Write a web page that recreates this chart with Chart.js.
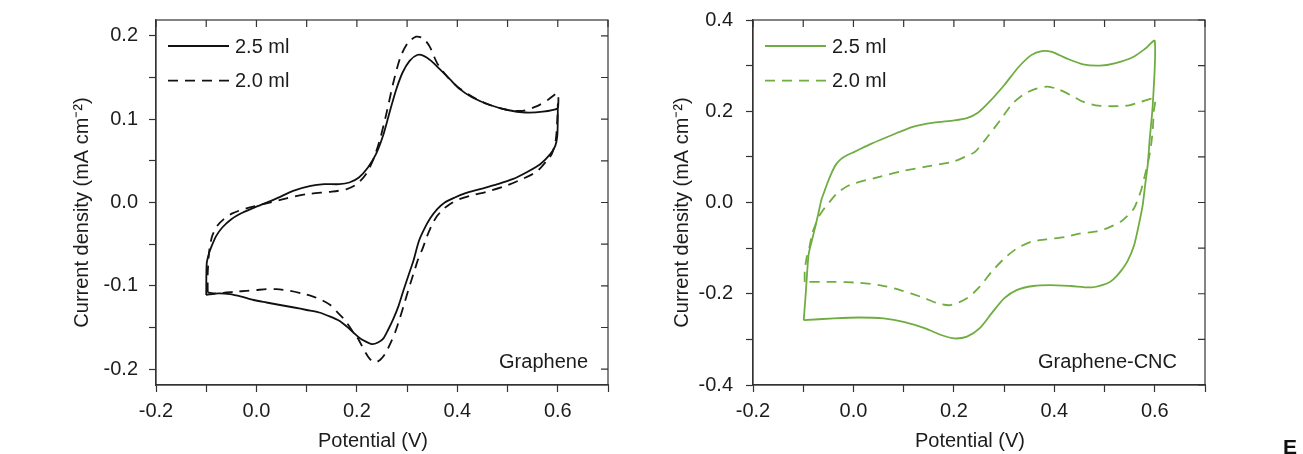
<!DOCTYPE html>
<html>
<head>
<meta charset="utf-8">
<script src="https://cdn.jsdelivr.net/npm/chart.js@4/dist/chart.umd.min.js"></script>
<style>
  html, body { margin: 0; padding: 0; background: #fff; overflow: hidden; }
  #wrap { position: relative; width: 1303px; height: 454px; }
  .panel { position: absolute; top: 0; }
  #left { left: 0; }
  #right { left: 640px; }
  #tag { position: absolute; left: 1283px; top: 435px; font: bold 21px 'Liberation Sans', Arial, sans-serif; color: #111; }
</style>
</head>
<body>
<div id="wrap">
  <canvas class="panel" id="left" width="640" height="454"></canvas>
  <canvas class="panel" id="right" width="663" height="454"></canvas>
  <div id="tag">E</div>
</div>
<script>
// Graphene electrode: potential (V) and current density (mA cm-2)
const grapheneV25 = [-0.100, -0.099, -0.094, -0.089, -0.080, -0.068, -0.050, -0.027, 0.000, 0.037, 0.073, 0.108, 0.135, 0.165, 0.185,
  0.204, 0.222, 0.238, 0.252, 0.265, 0.278, 0.291, 0.305, 0.320, 0.333, 0.348, 0.365, 0.385, 0.405, 0.430, 0.465, 0.500, 0.535, 0.570,
  0.600, 0.600, 0.600, 0.599, 0.595, 0.585, 0.565, 0.540, 0.510, 0.480, 0.445, 0.415, 0.395, 0.375, 0.360, 0.346, 0.334, 0.323, 0.313,
  0.303, 0.293, 0.283, 0.273, 0.262, 0.253, 0.242, 0.230, 0.218, 0.206, 0.193, 0.180, 0.165, 0.147, 0.125, 0.100, 0.075, 0.047, 0.020,
  -0.006, -0.030, -0.053, -0.075, -0.100];
const grapheneI25 = [-0.111, -0.073, -0.060, -0.052, -0.040, -0.030, -0.020, -0.012, -0.005, 0.004, 0.014, 0.020, 0.022, 0.022, 0.024,
  0.030, 0.042, 0.058, 0.080, 0.108, 0.135, 0.156, 0.170, 0.177, 0.176, 0.170, 0.160, 0.148, 0.136, 0.126, 0.117, 0.111, 0.108, 0.109,
  0.113, 0.118, 0.100, 0.080, 0.068, 0.058, 0.046, 0.037, 0.028, 0.022, 0.016, 0.011, 0.006, 0.000, -0.008, -0.019, -0.032, -0.047, -0.069,
  -0.087, -0.105, -0.124, -0.139, -0.153, -0.163, -0.168, -0.170, -0.167, -0.163, -0.156, -0.149, -0.142, -0.137, -0.132, -0.129, -0.126, -0.123, -0.120,
  -0.117, -0.113, -0.110, -0.109, -0.111];
const grapheneV20 = [-0.097, -0.097, -0.094, -0.088, -0.078, -0.065, -0.048, -0.020, 0.020, 0.060, 0.100, 0.150, 0.180, 0.200, 0.218,
  0.233, 0.247, 0.260, 0.273, 0.287, 0.302, 0.318, 0.332, 0.345, 0.360, 0.380, 0.400, 0.430, 0.460, 0.500, 0.530, 0.560, 0.580, 0.600,
  0.599, 0.596, 0.588, 0.578, 0.558, 0.525, 0.492, 0.459, 0.425, 0.400, 0.385, 0.372, 0.360, 0.350, 0.340, 0.331, 0.322, 0.314, 0.306,
  0.296, 0.286, 0.276, 0.266, 0.256, 0.246, 0.236, 0.226, 0.218, 0.210, 0.201, 0.193, 0.183, 0.173, 0.160, 0.147, 0.130, 0.113, 0.090,
  0.067, 0.040, 0.020, 0.000, -0.020, -0.040, -0.060, -0.080, -0.097];
const grapheneI20 = [-0.108, -0.085, -0.058, -0.040, -0.028, -0.020, -0.013, -0.007, -0.001, 0.005, 0.010, 0.013, 0.016, 0.022, 0.034,
  0.052, 0.078, 0.110, 0.145, 0.175, 0.192, 0.199, 0.197, 0.187, 0.167, 0.151, 0.139, 0.127, 0.118, 0.111, 0.110, 0.116, 0.123, 0.131,
  0.100, 0.075, 0.058, 0.050, 0.037, 0.027, 0.019, 0.013, 0.008, 0.003, -0.002, -0.008, -0.016, -0.026, -0.040, -0.055, -0.068, -0.083, -0.098,
  -0.118, -0.138, -0.156, -0.170, -0.182, -0.189, -0.192, -0.188, -0.181, -0.172, -0.162, -0.156, -0.147, -0.139, -0.131, -0.123, -0.117, -0.113, -0.109,
  -0.106, -0.104, -0.104, -0.105, -0.106, -0.107, -0.108, -0.109, -0.108];

// Graphene-CNC electrode
const cncV25 = [-0.099, -0.095, -0.092, -0.089, -0.082, -0.076, -0.070, -0.064, -0.057, -0.051, -0.043, -0.035, -0.025, -0.012, 0.002,
  0.036, 0.077, 0.118, 0.160, 0.201, 0.226, 0.247, 0.271, 0.300, 0.329, 0.354, 0.375, 0.395, 0.424, 0.457, 0.491, 0.520, 0.557, 0.582, 0.600,
  0.596, 0.590, 0.586, 0.581, 0.576, 0.568, 0.559, 0.546, 0.532, 0.518, 0.506, 0.474, 0.433, 0.391, 0.358, 0.325, 0.300, 0.275, 0.251,
  0.226, 0.201, 0.176, 0.143, 0.102, 0.060, 0.011, -0.039, -0.099];
const cncI25 = [-0.258, -0.200, -0.150, -0.112, -0.080, -0.053, -0.025, 0.005, 0.027, 0.045, 0.066, 0.083, 0.095, 0.104, 0.111,
  0.129, 0.148, 0.166, 0.175, 0.180, 0.185, 0.196, 0.221, 0.257, 0.297, 0.323, 0.332, 0.330, 0.316, 0.303, 0.300, 0.305, 0.319, 0.338, 0.354,
  0.214, 0.140, 0.083, 0.040, -0.005, -0.050, -0.093, -0.128, -0.151, -0.168, -0.177, -0.186, -0.183, -0.181, -0.183, -0.192, -0.210, -0.243, -0.276,
  -0.294, -0.298, -0.291, -0.276, -0.262, -0.254, -0.252, -0.254, -0.258];
const cncV20 = [-0.097, -0.097, -0.093, -0.088, -0.082, -0.075, -0.069, -0.060, -0.052, -0.032, -0.006, 0.040, 0.094, 0.147, 0.200,
  0.222, 0.242, 0.267, 0.292, 0.317, 0.342, 0.366, 0.387, 0.408, 0.433, 0.457, 0.482, 0.515, 0.549, 0.573, 0.600,
  0.598, 0.596, 0.592, 0.586, 0.579, 0.572, 0.559, 0.545, 0.532, 0.506, 0.480, 0.450, 0.424, 0.383, 0.354, 0.325, 0.300, 0.275, 0.251,
  0.226, 0.193, 0.168, 0.135, 0.093, 0.052, 0.011, -0.039, -0.097];
const cncI20 = [-0.174, -0.150, -0.120, -0.100, -0.067, -0.047, -0.031, -0.016, -0.005, 0.021, 0.039, 0.053, 0.068, 0.079, 0.090,
  0.100, 0.111, 0.144, 0.180, 0.217, 0.239, 0.250, 0.254, 0.248, 0.235, 0.221, 0.213, 0.211, 0.213, 0.221, 0.228,
  0.200, 0.160, 0.120, 0.085, 0.054, 0.024, -0.012, -0.030, -0.042, -0.056, -0.064, -0.068, -0.075, -0.081, -0.086, -0.101, -0.123, -0.152, -0.185,
  -0.210, -0.225, -0.221, -0.207, -0.192, -0.181, -0.176, -0.174, -0.174];

const seriesLabels = ['2.5 ml', '2.0 ml'];
const xTitle = 'Potential (V)';
const yTitle = 'Current density (mA cm\u207B\u00B2)';

const TEXT = '#1c1c1c';
const AXIS = '#333';
const FAMILY = "'Liberation Sans', Arial, Helvetica, sans-serif";
const FONT = { family: FAMILY, size: 20 };
const FONT_CSS = '20px ' + FAMILY;

Chart.defaults.font.family = FAMILY;
Chart.defaults.color = TEXT;

function toPoints(xs, ys) {
  return xs.map((x, i) => ({ x: x, y: ys[i] }));
}

// label only every `every` units, the rest are minor ticks
function tickText(v, every) {
  const k = v / every;
  if (Math.abs(k - Math.round(k)) > 1e-6) return '';
  return (Math.abs(v) < 1e-9 ? 0 : v).toFixed(1);
}

// closed box, inward ticks on top/right, axis titles, legend and sample name
const panelPlugin = {
  id: 'panel',
  afterDatasetsDraw(chart, args, opts) {
    const { ctx, chartArea: a } = chart;
    const sx = chart.scales.x, sy = chart.scales.y;
    ctx.save();
    ctx.strokeStyle = AXIS;
    ctx.lineWidth = 1.2;
    ctx.strokeRect(a.left, a.top, a.right - a.left, a.bottom - a.top);
    ctx.beginPath();
    sx.ticks.forEach(t => {
      const p = sx.getPixelForValue(t.value);
      ctx.moveTo(p, a.top); ctx.lineTo(p, a.top + 7);
    });
    sy.ticks.forEach(t => {
      const p = sy.getPixelForValue(t.value);
      ctx.moveTo(a.right, p); ctx.lineTo(a.right - 7, p);
    });
    ctx.stroke();

    ctx.font = FONT_CSS;
    ctx.fillStyle = TEXT;

    // axis titles sit a little toward the origin
    ctx.textAlign = 'center';
    ctx.textBaseline = 'alphabetic';
    ctx.fillText(xTitle, (a.left + a.right) / 2 - 9, 447);
    ctx.save();
    ctx.translate(opts.yTitleX, (a.top + a.bottom) / 2 + 10);
    ctx.rotate(-Math.PI / 2);
    ctx.textBaseline = 'middle';
    ctx.fillText(yTitle, 0, 0);
    ctx.restore();

    ctx.textAlign = 'left';
    ctx.textBaseline = 'middle';
    chart.data.datasets.forEach((ds, i) => {
      const y = a.top + 26 + i * 34.7;
      ctx.strokeStyle = ds.borderColor;
      ctx.lineWidth = ds.borderWidth;
      ctx.setLineDash(ds.borderDash || []);
      ctx.beginPath();
      ctx.moveTo(a.left + 12, y);
      ctx.lineTo(a.left + 73, y);
      ctx.stroke();
      ctx.fillText(ds.label, a.left + 79, y + 1);
    });
    ctx.setLineDash([]);

    ctx.textAlign = 'right';
    ctx.textBaseline = 'alphabetic';
    ctx.fillText(opts.name, a.right - opts.inset, a.bottom - 17);
    ctx.restore();
  }
};

function cvChart(id, p) {
  return new Chart(document.getElementById(id), {
    type: 'scatter',
    data: {
      datasets: [
        { label: seriesLabels[0], data: toPoints(p.xA, p.yA), borderColor: p.color, borderWidth: 1.8,
          showLine: true, pointRadius: 0, tension: 0.25 },
        { label: seriesLabels[1], data: toPoints(p.xB, p.yB), borderColor: p.color, borderWidth: 1.8,
          borderDash: [10, 7], showLine: true, pointRadius: 0, tension: 0.25 }
      ]
    },
    options: {
      responsive: false,
      animation: false,
      devicePixelRatio: 1,
      layout: { padding: p.padding },
      plugins: {
        legend: { display: false },
        tooltip: { enabled: false },
        panel: { name: p.name, inset: p.inset, yTitleX: p.yTitleX }
      },
      scales: {
        x: {
          type: 'linear', position: 'bottom', min: -0.2, max: 0.7,
          grid: { drawOnChartArea: false, drawTicks: true, tickLength: 7, tickColor: AXIS, tickWidth: 1.2 },
          border: { color: AXIS, width: 1.2 },
          ticks: { stepSize: 0.1, includeBounds: false, autoSkip: false, maxRotation: 0, padding: 7,
                   color: TEXT, font: FONT, callback: v => tickText(v, 0.2) },
          afterFit: s => { s.height = 69; s.paddingLeft = 0; s.paddingRight = 0; }
        },
        y: {
          type: 'linear', position: 'left', min: p.yMin, max: p.yMax,
          grid: { drawOnChartArea: false, drawTicks: true, tickLength: 7, tickColor: AXIS, tickWidth: 1.2 },
          border: { color: AXIS, width: 1.2 },
          ticks: { stepSize: p.yStep, includeBounds: false, autoSkip: false, padding: p.yPad,
                   color: TEXT, font: FONT, callback: v => tickText(v, p.yLabelEvery) },
          afterFit: s => { s.width = p.yWidth; s.paddingTop = 0; s.paddingBottom = 0; }
        }
      }
    },
    plugins: [panelPlugin]
  });
}

cvChart('left', {
  xA: grapheneV25, yA: grapheneI25, xB: grapheneV20, yB: grapheneI20,
  color: '#111111', name: 'Graphene', inset: 20, yTitleX: 82,
  yMin: -0.219, yMax: 0.219, yStep: 0.05, yLabelEvery: 0.1, yPad: 11,
  yWidth: 86, padding: { left: 70, right: 32, top: 20, bottom: 0 }
});

cvChart('right', {
  xA: cncV25, yA: cncI25, xB: cncV20, yB: cncI20,
  color: '#6fad41', name: 'Graphene-CNC', inset: 28, yTitleX: 42,
  yMin: -0.4, yMax: 0.4, yStep: 0.1, yLabelEvery: 0.2, yPad: 13,
  yWidth: 87, padding: { left: 26, right: 98, top: 20, bottom: 0 }
});
</script>
</body>
</html>
